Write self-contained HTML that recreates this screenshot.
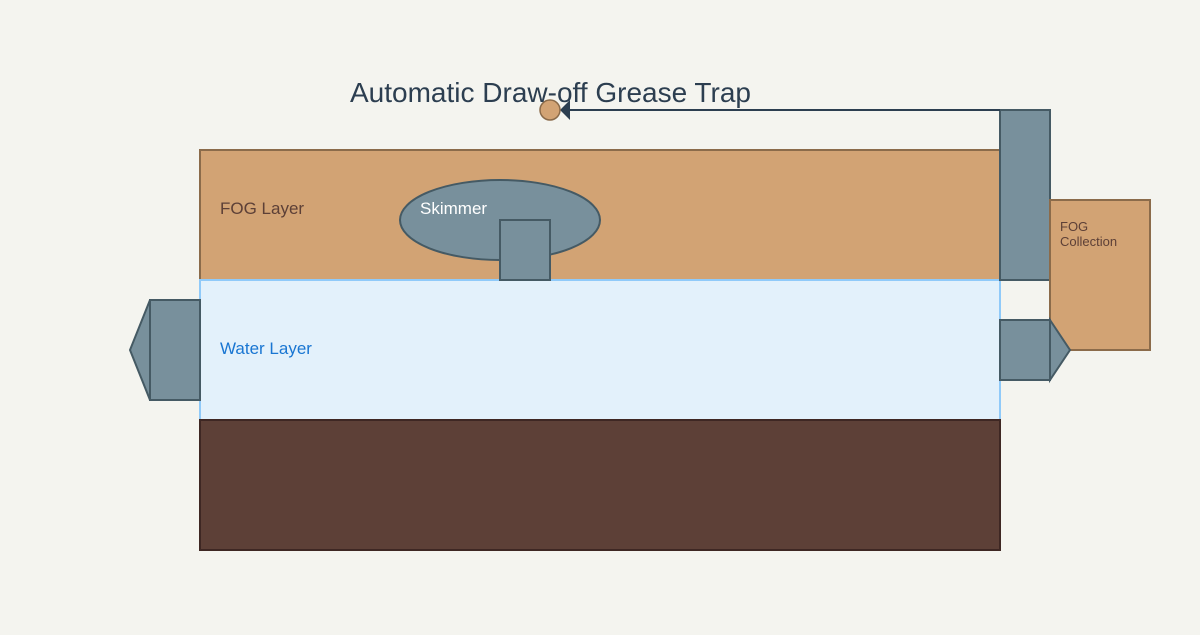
<!DOCTYPE html>
<html><head><style>body{margin:0;background:#f4f4ef}</style></head><body>
<svg width="1200" height="630" xmlns="http://www.w3.org/2000/svg" font-family="Liberation Sans, sans-serif">
<rect width="1200" height="630" fill="#f4f4ef"/>
<rect x="200" y="150" width="800" height="130" fill="#d2a374" stroke="#8b6b4a" stroke-width="2"/>
<rect x="200" y="280" width="800" height="140" fill="#e3f1fb" stroke="#90caf9" stroke-width="2"/>
<rect x="200" y="420" width="800" height="130" fill="#5d4037" stroke="#3e2723" stroke-width="2"/>
<ellipse cx="500" cy="220" rx="100" ry="40" fill="#78909c" stroke="#455a64" stroke-width="2"/>
<rect x="500" y="220" width="50" height="60" fill="#78909c" stroke="#455a64" stroke-width="2"/>
<rect x="1000" y="110" width="50" height="170" fill="#78909c" stroke="#455a64" stroke-width="2"/>
<rect x="1050" y="200" width="100" height="150" fill="#d2a374" stroke="#8b6b4a" stroke-width="2"/>
<rect x="150" y="300" width="50" height="100" fill="#78909c" stroke="#455a64" stroke-width="2"/>
<polygon points="150,300 130,350 150,400" fill="#78909c" stroke="#455a64" stroke-width="2"/>
<rect x="1000" y="320" width="50" height="60" fill="#78909c" stroke="#455a64" stroke-width="2"/>
<polygon points="1050,320 1070,350 1050,380" fill="#78909c" stroke="#455a64" stroke-width="2"/>
<line x1="1000" y1="110" x2="565" y2="110" stroke="#2c3e50" stroke-width="2"/>
<polygon points="560,110 570,100 570,120" fill="#2c3e50"/>
<circle cx="550" cy="110" r="10" fill="#d2a374" stroke="#8b6b4a" stroke-width="1.5"/>
<text x="350" y="102" font-size="28" fill="#2c3e50">Automatic Draw-off Grease Trap</text>
<text x="220" y="214" font-size="17" fill="#5d4037">FOG Layer</text>
<text x="420" y="214" font-size="17" fill="#ffffff">Skimmer</text>
<text x="220" y="354" font-size="17" fill="#1976d2">Water Layer</text>
<text x="1060" y="231" font-size="13" fill="#5d4037">FOG</text>
<text x="1060" y="246" font-size="13" fill="#5d4037">Collection</text>
</svg>
</body></html>
